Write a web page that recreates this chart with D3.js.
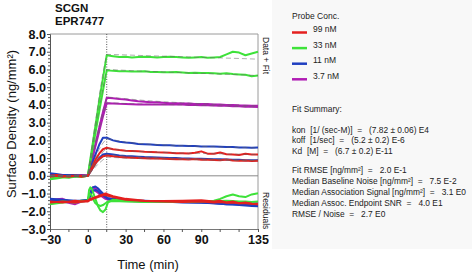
<!DOCTYPE html>
<html><head><meta charset="utf-8">
<script src="https://cdn.jsdelivr.net/npm/d3@7"></script>
<style>
html,body{margin:0;padding:0;background:#fff;}
svg{display:block;font-family:"Liberation Sans",Arial,sans-serif;}
</style></head>
<body>
<script>
// ---- data ----
const titleLines = ["SCGN", "EPR7477"];
const concLabels = ["99 nM", "33 nM", "11 nM", "3.7 nM"];
const concColors = ["#e4201f", "#3ee23a", "#1f3fc0", "#b01cb4"];
const xTicks = [-30, 0, 30, 60, 90, 135];
const yTicks = [8, 7, 6, 5, 4, 3, 2, 1, 0, -1, -2, -3];

const T = [-30,-25,-20,-15,-10,-5,0,3,6,9,12,15,20,25,30,35,40,45,50,55,60,65,70,75,80,85,90,95,100,105,110,115,120,125,130,135];
// data, two replicates per concentration
const red1 = [0.0,0.05,0.0,-0.05,0.0,0.0,0.0, 0.45,0.9,1.25,1.5,1.58, 1.5,1.45,1.42,1.4,1.38,1.36,1.35,1.33,1.32,1.3,1.28,1.28,1.26,1.3,1.38,1.25,1.24,1.32,1.22,1.2,1.18,1.25,1.2,1.2];
const red2 = [-0.05,0.0,-0.05,0.0,0.0,-0.05,0.0, 0.35,0.7,0.95,1.1,1.15, 1.1,1.06,1.04,1.02,1.0,0.99,0.98,0.97,0.96,0.95,0.94,0.93,0.92,0.95,0.9,0.9,0.89,0.88,0.92,0.86,0.85,0.86,0.84,0.85];
const green1 = [-0.15,-0.1,-0.05,-0.1,0.0,-0.05,0.0, 1.4,2.8,4.2,5.5,6.8, 6.75,6.7,6.72,6.68,6.7,6.72,6.7,6.68,6.7,6.72,6.7,6.68,6.66,6.68,6.7,6.66,6.68,6.7,6.85,7.0,6.95,6.8,6.9,7.0];
const green2 = [-0.2,-0.15,-0.1,-0.1,-0.05,-0.05,0.0, 1.2,2.4,3.6,4.8,5.95, 5.92,5.9,5.9,5.88,5.88,5.9,5.86,5.86,5.84,5.84,5.85,5.83,5.8,5.82,5.8,5.8,5.78,5.76,5.78,5.74,5.72,5.7,5.62,5.66];
const blue1 = [0.15,0.1,0.05,0.05,0.05,0.0,0.0, 0.6,1.2,1.75,2.15,2.15, 2.0,1.92,1.88,1.85,1.8,1.78,1.76,1.74,1.72,1.72,1.7,1.7,1.68,1.68,1.66,1.66,1.65,1.64,1.62,1.62,1.6,1.6,1.58,1.6];
const blue2 = [0.1,0.05,0.05,0.0,0.0,0.0,0.0, 0.35,0.7,1.0,1.2,1.25, 1.2,1.15,1.12,1.1,1.08,1.06,1.05,1.04,1.02,1.0,1.0,0.98,0.98,0.96,0.96,0.95,0.94,0.93,0.92,0.9,0.9,0.88,0.88,0.88];
const mag1 = [0.05,0.0,0.05,0.0,0.0,0.05,0.0, 0.9,1.8,2.7,3.6,4.4, 4.38,4.33,4.3,4.25,4.2,4.18,4.15,4.15,4.12,4.1,4.1,4.08,4.08,4.05,4.05,4.05,4.02,4.02,4.0,4.0,3.98,3.97,3.95,3.95];
const mag2 = [0.0,0.05,0.0,0.0,-0.05,0.0,0.0, 0.8,1.65,2.5,3.35,4.1, 4.08,4.06,4.05,4.04,4.03,4.03,4.02,4.02,4.02,4.02,4.03,4.02,4.0,4.0,3.98,3.98,3.96,3.95,3.95,3.93,3.92,3.9,3.9,3.88];

// fitted curves
const FT = [-30,0,3,6,9,12,15,30,45,60,75,90,105,120,135];
const fitRed1 = [0,0,0.4,0.78,1.1,1.35,1.55,1.42,1.36,1.32,1.28,1.26,1.24,1.22,1.2];
const fitRed2 = [0,0,0.25,0.5,0.72,0.9,1.05,1.0,0.97,0.95,0.93,0.9,0.88,0.86,0.85];
const fitGreen1 = [0,0,1.55,3.0,4.5,5.8,6.85,6.82,6.78,6.75,6.72,6.68,6.65,6.62,6.58];
const fitGreen2 = [0,0,1.3,2.6,3.8,4.95,6.0,5.95,5.9,5.86,5.82,5.78,5.74,5.7,5.66];
const fitBlue1 = [0,0,0.55,1.05,1.5,1.85,2.1,1.9,1.8,1.74,1.7,1.66,1.63,1.6,1.57];
const fitBlue2 = [0,0,0.3,0.6,0.85,1.05,1.2,1.12,1.06,1.02,0.99,0.96,0.93,0.9,0.88];
const fitMag1 = [0,0,1.0,1.95,2.85,3.7,4.45,4.35,4.25,4.18,4.12,4.07,4.02,3.98,3.94];
const fitMag2 = [0,0,0.9,1.75,2.6,3.4,4.12,4.08,4.05,4.02,4.0,3.97,3.94,3.91,3.88];

// residuals (plotted offset, as drawn)
const RT = [-30,-20,-10,-5,0,1,2,3,4,6,8,10,12,14,16,20,30,45,60,75,90,100,105,110,115,120,125,130,135];
const resRed1 = [-1.45,-1.5,-1.4,-1.45,-1.4,-1.35,-1.3,-1.3,-1.25,-1.2,-1.15,-1.1,-1.05,-1.0,-1.05,-1.15,-1.3,-1.4,-1.42,-1.4,-1.38,-1.45,-1.4,-1.5,-1.45,-1.55,-1.5,-1.58,-1.6];
const resRed2 = [-1.5,-1.45,-1.5,-1.45,-1.45,-1.4,-1.35,-1.35,-1.3,-1.25,-1.2,-1.15,-1.1,-1.08,-1.12,-1.2,-1.35,-1.42,-1.45,-1.48,-1.45,-1.5,-1.48,-1.52,-1.5,-1.55,-1.55,-1.58,-1.6];
const resGreen1 = [-1.6,-1.5,-1.45,-1.4,-1.4,-0.8,-0.65,-0.7,-0.9,-1.3,-1.7,-1.95,-2.05,-1.9,-1.5,-1.35,-1.4,-1.45,-1.45,-1.45,-1.42,-1.4,-1.3,-1.15,-1.05,-1.15,-1.2,-1.05,-0.98];
const resGreen2 = [-1.55,-1.45,-1.5,-1.45,-1.4,-1.1,-1.0,-1.1,-1.3,-1.55,-1.65,-1.7,-1.65,-1.55,-1.45,-1.42,-1.45,-1.47,-1.45,-1.48,-1.45,-1.45,-1.42,-1.4,-1.42,-1.45,-1.45,-1.48,-1.45];
const resBlue1 = [-1.3,-1.35,-1.4,-1.4,-1.35,-1.2,-1.0,-0.8,-0.65,-0.6,-0.7,-0.85,-1.0,-1.15,-1.25,-1.3,-1.38,-1.4,-1.45,-1.48,-1.5,-1.55,-1.58,-1.6,-1.62,-1.65,-1.68,-1.7,-1.72];
const resBlue2 = [-1.35,-1.4,-1.45,-1.4,-1.4,-1.25,-1.15,-0.95,-0.85,-0.8,-0.85,-1.0,-1.1,-1.2,-1.3,-1.35,-1.4,-1.42,-1.45,-1.5,-1.52,-1.55,-1.58,-1.6,-1.6,-1.62,-1.65,-1.65,-1.68];
const resMag1 = [-1.35,-1.3,-1.55,-1.4,-1.35,-1.2,-1.0,-0.75,-0.65,-0.7,-0.85,-1.0,-1.15,-1.25,-1.3,-1.35,-1.4,-1.42,-1.45,-1.45,-1.45,-1.47,-1.48,-1.5,-1.5,-1.52,-1.52,-1.55,-1.55];
const resMag2 = [-1.4,-1.45,-1.6,-1.45,-1.4,-1.25,-1.1,-0.9,-0.8,-0.85,-0.95,-1.1,-1.2,-1.3,-1.35,-1.38,-1.42,-1.45,-1.45,-1.47,-1.48,-1.5,-1.5,-1.5,-1.52,-1.52,-1.53,-1.55,-1.55];

const injectionEnd = 15;
const summaryLines = [
  "Fit Summary:",
  "kon  [1/ (sec-M)]  =   (7.82 \u00b1 0.06) E4",
  "koff  [1/sec]  =   (5.2 \u00b1 0.2) E-6",
  "Kd  [M]  =   (6.7 \u00b1 0.2) E-11",
  "Fit RMSE [ng/mm\u00b2]  =   2.0 E-1",
  "Median Baseline Noise [ng/mm\u00b2]  =   7.5 E-2",
  "Median Association Signal [ng/mm\u00b2]  =   3.1 E0",
  "Median Assoc. Endpoint SNR  =   4.0 E1",
  "RMSE / Noise  =   2.7 E0"
];

// ---- drawing ----
const W = 475, H = 272;
const svg = d3.select("body").append("svg").attr("width", W).attr("height", H);

const x = d3.scaleLinear().domain([-30, 135]).range([50, 258]);
const y = d3.scaleLinear().domain([-3, 8]).range([229, 34]);

// side panel background
svg.append("rect").attr("x", 272).attr("y", 0).attr("width", 200).attr("height", 249).attr("fill", "#f8f8f8");

// frame
svg.append("line").attr("x1", x(-30)).attr("x2", x(135)).attr("y1", y(8)).attr("y2", y(8)).attr("stroke", "#9a9a9a");
svg.append("line").attr("x1", x(135)).attr("x2", x(135)).attr("y1", y(8)).attr("y2", y(-3)).attr("stroke", "#9a9a9a");
svg.append("line").attr("x1", x(-30)).attr("x2", x(135)).attr("y1", y(0)).attr("y2", y(0)).attr("stroke", "#8a8a8a");

// axes
const yAxis = d3.axisLeft(y).tickValues(yTicks).tickFormat(d3.format(".1f")).tickSize(3).tickPadding(1);
const gy = svg.append("g").attr("transform", `translate(${x(-30)},0)`).call(yAxis);
const minorY = d3.range(-3, 8.001, 0.2).filter(v => Math.abs(v - Math.round(v)) > 1e-6);
gy.selectAll(".minor").data(minorY).enter().append("line").attr("class", "minor")
  .attr("x1", 0).attr("x2", -2).attr("y1", d => y(d)).attr("y2", d => y(d)).attr("stroke", "#555");
gy.select(".domain").attr("stroke", "#555");
gy.selectAll(".tick line").attr("stroke", "#555");
gy.selectAll("text").attr("font-size", 12.5).attr("font-weight", "bold").attr("fill", "#111");

const xAxis = d3.axisBottom(x).tickValues(xTicks).tickSize(3).tickPadding(3);
const gx = svg.append("g").attr("transform", `translate(0,${y(-3)})`).call(xAxis);
gx.selectAll(".minor").data([-15, 15, 45, 75, 105, 120]).enter().append("line").attr("class", "minor")
  .attr("x1", d => x(d)).attr("x2", d => x(d)).attr("y1", 0).attr("y2", 3).attr("stroke", "#555");
gx.select(".domain").attr("stroke", "#777");
gx.selectAll(".tick line").attr("stroke", "#555");
gx.selectAll("text").attr("font-size", 12.5).attr("font-weight", "bold").attr("fill", "#111");

// injection end marker
svg.append("line").attr("x1", x(injectionEnd)).attr("x2", x(injectionEnd)).attr("y1", y(8)).attr("y2", y(-3))
  .attr("stroke", "#555").attr("stroke-dasharray", "1,1.5");

const line = d3.line().x(d => x(d[0])).y(d => y(d[1]));
const zipT = (ts, vs) => ts.map((t, i) => [t, vs[i]]);

// draw order: magenta, blue, green, red
const dataSeries = [[mag1, 3], [mag2, 3], [blue1, 2], [blue2, 2], [green1, 1], [green2, 1], [red1, 0], [red2, 0]];
const resSeries = [[resMag1, 3], [resMag2, 3], [resBlue1, 2], [resBlue2, 2], [resGreen1, 1], [resGreen2, 1], [resRed1, 0], [resRed2, 0]];
const fitSeries = [fitMag1, fitMag2, fitBlue1, fitBlue2, fitGreen1, fitGreen2, fitRed1, fitRed2];

resSeries.forEach(([vals, c]) => {
  svg.append("path").attr("d", line(zipT(RT, vals))).attr("fill", "none")
    .attr("stroke", concColors[c]).attr("stroke-width", 2).attr("stroke-linejoin", "round");
});
dataSeries.forEach(([vals, c]) => {
  svg.append("path").attr("d", line(zipT(T, vals))).attr("fill", "none")
    .attr("stroke", concColors[c]).attr("stroke-width", 2).attr("stroke-linejoin", "round");
});
fitSeries.forEach(vals => {
  svg.append("path").attr("d", line(zipT(FT, vals))).attr("fill", "none")
    .attr("stroke", "#666").attr("stroke-opacity", 0.75).attr("stroke-width", 0.7).attr("stroke-dasharray", "5,3");
});

// titles
svg.selectAll(".title").data(titleLines).enter().append("text")
  .attr("x", 55).attr("y", (d, i) => 12 + i * 13).attr("font-size", 11.5).attr("font-weight", "bold").attr("fill", "#111").text(d => d);

svg.append("text").attr("transform", "translate(16,124) rotate(-90)").attr("text-anchor", "middle")
  .attr("font-size", 13).attr("fill", "#111").text("Surface Density (ng/mm\u00b2)");
svg.append("text").attr("x", 148).attr("y", 269).attr("text-anchor", "middle")
  .attr("font-size", 13).attr("fill", "#111").text("Time (min)");

svg.append("text").attr("transform", "translate(263,37) rotate(90)").attr("font-size", 8.5).attr("fill", "#222").text("Data + Fit");
svg.append("text").attr("transform", "translate(263,192) rotate(90)").attr("font-size", 8.5).attr("fill", "#222").text("Residuals");

// legend
const lg = svg.append("g");
lg.append("text").attr("x", 292).attr("y", 19).attr("font-size", 8.5).attr("fill", "#222").text("Probe Conc.");
concLabels.forEach((lab, i) => {
  const yy = 32.5 + i * 15.6;
  lg.append("line").attr("x1", 292).attr("x2", 307).attr("y1", yy).attr("y2", yy)
    .attr("stroke", concColors[i]).attr("stroke-width", 2.5);
  lg.append("text").attr("x", 313).attr("y", yy - 0.5).attr("font-size", 8.5).attr("fill", "#222").text(lab);
});

// fit summary
const baseY = [112, 132.5, 143, 153.5, 173, 184, 195, 206, 216.5];
summaryLines.forEach((txt, i) => {
  svg.append("text").attr("x", 292).attr("y", baseY[i]).attr("font-size", 8.4).attr("fill", "#222")
    .style("white-space", "pre").text(txt);
});
</script>
</body></html>
